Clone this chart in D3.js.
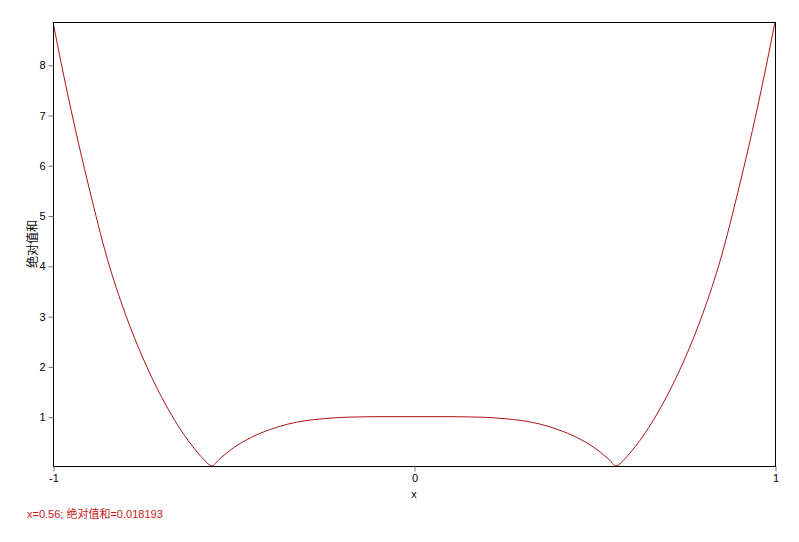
<!DOCTYPE html>
<html>
<head>
<meta charset="utf-8">
<script src="https://cdn.jsdelivr.net/npm/d3@7"></script>
<style>
  body { margin: 0; background: #fff; }
  text { font-family: Arial, "Liberation Sans", "Noto Sans CJK SC", sans-serif; }
</style>
</head>
<body>
<svg id="chart" width="799" height="542"></svg>
<script>
// Data
var xs = [-1, -0.975, -0.95, -0.9, -0.85, -0.8, -0.75, -0.7, -0.65, -0.6, -0.58, -0.56, -0.54, -0.5, -0.45, -0.4, -0.35, -0.3, -0.25, -0.2, -0.15, -0.1, -0.05, 0,
          0.05, 0.1, 0.15, 0.2, 0.25, 0.3, 0.35, 0.4, 0.45, 0.5, 0.54, 0.56, 0.58, 0.6, 0.65, 0.7, 0.75, 0.8, 0.85, 0.9, 0.95, 0.975, 1]
var sums = [8.85, 7.95, 7.1, 5.55, 4.15, 3.05, 2.15, 1.4, 0.78, 0.29, 0.13, 0.018, 0.15, 0.38, 0.59, 0.74, 0.85, 0.92, 0.96, 0.985, 0.995, 1.0, 1.0, 1.0,
            1.0, 1.0, 0.995, 0.985, 0.96, 0.92, 0.85, 0.74, 0.59, 0.38, 0.15, 0.018, 0.13, 0.29, 0.78, 1.4, 2.15, 3.05, 4.15, 5.55, 7.1, 7.95, 8.85]
var x_ticks = [-1, 0, 1]
var y_ticks = [1, 2, 3, 4, 5, 6, 7, 8]
var y_min = 0.018193
var y_max = 8.85
var status_text = 'x=0.56; 绝对值和=0.018193'

var margin = {left: 53, top: 22, right: 24, bottom: 76}
var width = 799 - margin.left - margin.right
var height = 542 - margin.top - margin.bottom

var svg = d3.select('#chart')
var g = svg.append('g')
  .attr('transform', 'translate(' + margin.left + ',' + margin.top + ')')

var x = d3.scaleLinear().domain([-1, 1]).range([0, width])
var y = d3.scaleLinear().domain([y_min, y_max]).range([height, 0])

var points = xs.map((d, i) => ({x: d, y: sums[i]}))

// Curve
g.append('path')
  .datum(points)
  .attr('fill', 'none')
  .attr('stroke', '#a81414')
  .attr('stroke-width', 1)
  .attr('d', d3.line()
    .x(d => x(d.x))
    .y(d => y(d.y))
    .curve(d3.curveMonotoneX))

// Frame
g.append('rect')
  .attr('x', 0.5)
  .attr('y', 0.5)
  .attr('width', width)
  .attr('height', height)
  .attr('fill', 'none')
  .attr('stroke', '#000')
  .attr('stroke-width', 1)

// Axes (plain hyphen for negatives, like the original)
var x_axis = g.append('g')
  .attr('transform', 'translate(0.5,' + (height + 0.5) + ')')
  .call(d3.axisBottom(x).tickValues(x_ticks).tickSize(5).tickPadding(3).tickFormat(d => String(d)))
var y_axis = g.append('g')
  .attr('transform', 'translate(0.5,0.5)')
  .call(d3.axisLeft(y).tickValues(y_ticks).tickSize(5).tickPadding(3).tickFormat(d => String(d)))

;[x_axis, y_axis].forEach(a => {
  a.select('.domain').remove()
  a.selectAll('line').attr('stroke', '#777')
  a.selectAll('text')
    .attr('fill', '#000')
    .style('font-size', '11px')
    .style('font-family', 'Arial, "Liberation Sans", sans-serif')
})

// Axis labels
svg.append('text')
  .attr('x', margin.left + width / 2)
  .attr('y', 498)
  .attr('text-anchor', 'middle')
  .attr('fill', '#000')
  .style('font-size', '11px')
  .text('x')

svg.append('text')
  .attr('transform', 'translate(37,244) rotate(-90)')
  .attr('text-anchor', 'middle')
  .attr('fill', '#000')
  .style('font-size', '12px')
  .text('绝对值和')

// Status line
svg.append('text')
  .attr('x', 27)
  .attr('y', 518)
  .attr('fill', '#c41a1a')
  .style('font-size', '11px')
  .text(status_text)
</script>
</body>
</html>
